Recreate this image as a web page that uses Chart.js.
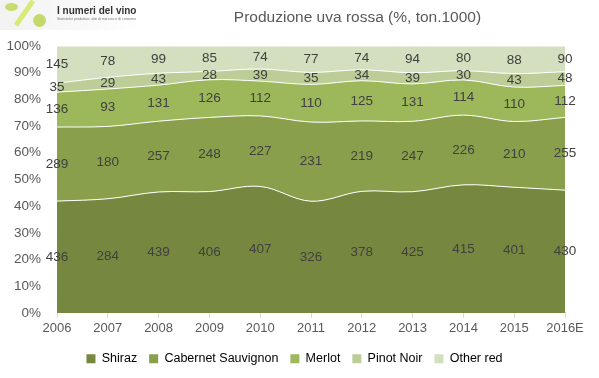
<!DOCTYPE html>
<html><head><meta charset="utf-8">
<script src="https://cdn.jsdelivr.net/npm/chart.js@4"></script>
<style>
html,body{margin:0;padding:0;background:#fff;}
#wrap{position:relative;width:599px;height:378px;overflow:hidden;font-family:"Liberation Sans",Arial,sans-serif;}
#logo{position:absolute;left:0;top:0;width:140px;height:30px;background:linear-gradient(90deg,#f2f2f2,#fafafa 70%,#fff);}
#title{position:absolute;left:0;width:599px;top:8px;text-align:center;padding-left:116px;box-sizing:border-box;font-size:15.5px;color:#595959;}
</style></head>
<body><div id="wrap">
<div id="logo">
  <div style="position:absolute;left:5px;top:3px;width:13px;height:8px;border-radius:50%;background:#c6dc6e;"></div>
  <div style="position:absolute;left:22px;top:-2px;width:5px;height:30px;background:#d8ea7a;transform:rotate(35deg);"></div>
  <div style="position:absolute;left:33px;top:14px;width:13px;height:13px;border-radius:50%;background:#c3da6a;"></div>
  <div style="position:absolute;left:57px;top:5px;font-size:10px;font-weight:bold;color:#333;white-space:nowrap;">I numeri del vino</div>
  <div style="position:absolute;left:57px;top:17px;font-size:3.5px;color:#777;white-space:nowrap;">Statistiche produttive, dati di mercato e di consumo</div>
</div>
<div id="title">Produzione uva rossa (%, ton.1000)</div>
<canvas id="c" width="599" height="378"></canvas>
</div>
<script>
const categories = ["2006","2007","2008","2009","2010","2011","2012","2013","2014","2015","2016E"];
const shiraz   = [436,284,439,406,407,326,378,425,415,401,430];
const cabernet = [289,180,257,248,227,231,219,247,226,210,255];
const merlot   = [136, 93,131,126,112,110,125,131,114,110,112];
const pinot    = [ 35, 29, 43, 28, 39, 35, 34, 39, 30, 43, 48];
const other    = [145, 78, 99, 85, 74, 77, 74, 94, 80, 88, 90];
const yTicks = [0,10,20,30,40,50,60,70,80,90,100];

const seriesNames = ["Shiraz","Cabernet Sauvignon","Merlot","Pinot Noir","Other red"];
const series = [shiraz,cabernet,merlot,pinot,other];
const colors = ["#76883f","#8a9f4c","#9cb85a","#bccd97","#d3dfbf"];
const totals = categories.map((_,i)=>series.reduce((s,a)=>s+a[i],0));
const pct = series.map(a=>a.map((v,i)=>v/totals[i]*100));

const labelPlugin = {
  id:'bandLabels',
  afterLayout(chart){
    const lg = chart.legend;
    if(lg){ lg.left += 12; lg.right += 12; }
  },
  afterDatasetsDraw(chart){
    const ctx = chart.ctx, y = chart.scales.y, x = chart.scales.x;
    ctx.save();
    ctx.font = '13.5px "Liberation Sans", Arial, sans-serif';
    ctx.fillStyle = '#404040';
    ctx.textAlign = 'center';
    ctx.textBaseline = 'middle';
    categories.forEach((c,i)=>{
      let cum = 0;
      series.forEach((s,k)=>{
        const mid = cum + pct[k][i]/2;
        cum += pct[k][i];
        ctx.fillText(String(s[i]), x.getPixelForValue(i), y.getPixelForValue(mid));
      });
    });
    ctx.restore();
  }
};

new Chart(document.getElementById('c'),{
  type:'line',
  data:{
    labels:categories,
    datasets: seriesNames.map((n,k)=>({
      label:n,
      data:pct[k],
      backgroundColor:colors[k],
      borderColor:'#ffffff',
      borderWidth:1,
      pointRadius:0,
      tension:0.35,
      fill: k===0 ? 'origin' : '-1'
    }))
  },
  options:{
    responsive:false,
    animation:false,
    layout:{padding:{top:46,right:34,left:0,bottom:3}},
    plugins:{
      legend:{
        position:'bottom',
        labels:{boxWidth:9,boxHeight:9,color:'#595959',font:{size:12.5,family:'"Liberation Sans", Arial, sans-serif'},padding:12,
          generateLabels(chart){
            return seriesNames.map((n,k)=>({text:n,fillStyle:colors[k],strokeStyle:colors[k],lineWidth:0,datasetIndex:k}));
          }}
      },
      tooltip:{enabled:false}
    },
    scales:{
      x:{
        offset:false,
        afterFit(s){ s.height = s.height + 1; },
        grid:{drawOnChartArea:false,drawTicks:true,tickLength:5,color:'#d9d9d9'},
        border:{color:'#d9d9d9'},
        ticks:{color:'#595959',font:{size:13,family:'"Liberation Sans", Arial, sans-serif'},maxRotation:0,padding:3}
      },
      y:{
        stacked:true,
        min:0,max:100,
        afterBuildTicks(s){ s.ticks = yTicks.map(v=>({value:v})); },
        afterFit(s){ s.width = 57; },
        grid:{display:false},
        border:{display:false},
        ticks:{color:'#595959',font:{size:13.5,family:'"Liberation Sans", Arial, sans-serif'},padding:8,callback:v=>v+'%'}
      }
    }
  },
  plugins:[labelPlugin]
});
</script>
</body></html>
